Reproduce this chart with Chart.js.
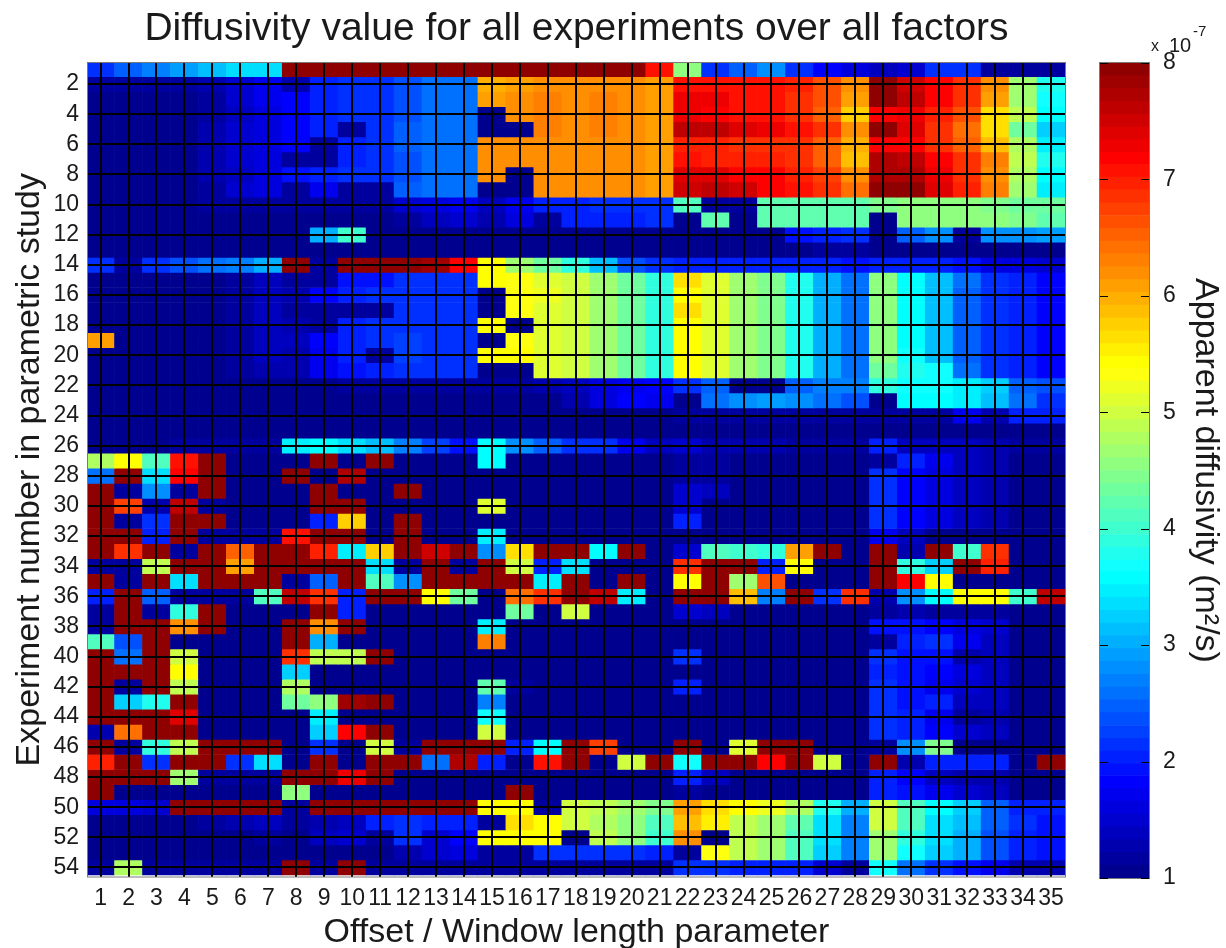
<!DOCTYPE html>
<html><head><meta charset="utf-8">
<style>
html,body{margin:0;padding:0;background:#fff;width:1226px;height:948px;overflow:hidden}
canvas{position:absolute;top:0;filter:blur(0.45px)}
#main{left:0}
#bar{left:1090px}
</style>
<script src="https://cdn.jsdelivr.net/npm/chart.js@4"></script>
</head><body>
<canvas id="main" width="1226" height="948"></canvas>
<canvas id="bar" width="136" height="948"></canvas>
<script>
const offsetLabels = [1,2,3,4,5,6,7,8,9,10,11,12,13,14,15,16,17,18,19,20,21,22,23,24,25,26,27,28,29,30,31,32,33,34,35];
const experimentTicks = [2,4,6,8,10,12,14,16,18,20,22,24,26,28,30,32,34,36,38,40,42,44,46,48,50,52,54];
const colorbarTicks = [1,2,3,4,5,6,7,8];
const colorbarEdges = [1,1.11,1.22,1.33,1.44,1.55,1.66,1.77,1.88,1.98,2.09,2.20,2.31,2.42,2.53,2.64,2.75,2.86,2.97,3.08,3.19,3.30,3.41,3.52,3.63,3.73,3.84,3.95,4.06,4.17,4.28,4.39,4.50,4.61,4.72,4.83,4.94,5.05,5.16,5.27,5.38,5.48,5.59,5.70,5.81,5.92,6.03,6.14,6.25,6.36,6.47,6.58,6.69,6.80,6.91,7.02,7.13,7.23,7.34,7.45,7.56,7.67,7.78,7.89,8];

const r01=[2.1,2.5,2.7,2.9,3.1,3.3,3.4,8,8,8,8,8,8,8,8,8,8,8,8,8,7.1,4.6,2.1,2.5,2.8,2.2,1.8,1.6,1.4,1.5,2.1,2.1,1.2,1.2,1.2];
const r02=[1.2,1.2,1.2,1.2,1.3,1.5,1.7,1.3,2.0,2.1,2.2,2.4,2.6,2.6,6.0,6.1,6.2,6.2,6.2,6.2,6.1,7.1,7.1,7.1,7.1,7.0,6.6,6.2,7.9,7.5,7.2,6.9,6.2,4.7,3.8];
const r03=[1.1,1.1,1.1,1.1,1.2,1.5,1.7,1.8,2.0,2.1,2.2,2.4,2.6,2.6,6.1,6.2,6.3,6.2,6.3,6.2,6.1,7.3,7.3,7.1,7.1,6.9,6.6,6.1,8,7.6,7.2,6.8,6.1,4.7,3.7];
const r04=[1.1,1.1,1.1,1.1,1.2,1.4,1.6,1.8,2.0,2.1,2.2,2.4,2.6,2.6,1.1,6.2,6.3,6.2,6.3,6.2,6.1,7.3,7.2,7.1,7.1,6.9,6.5,5.8,7.2,7.3,7.0,6.6,5.7,4.9,3.6];
const r05=[1.1,1.1,1.1,1.1,1.3,1.5,1.6,1.8,2.0,1.2,2.2,2.5,2.6,2.6,1.1,1.1,6.3,6.2,6.3,6.2,6.1,7.6,7.6,7.4,7.3,7.1,6.8,6.2,8,7.4,6.9,6.4,5.6,4.3,3.2];
const r06=[1.1,1.1,1.1,1.1,1.3,1.5,1.6,1.8,1.2,2.0,2.2,2.5,2.6,2.6,6.2,6.2,6.2,6.2,6.2,6.2,6.1,7.0,7.0,6.9,6.9,6.8,6.5,6.0,7.2,7.2,6.9,6.5,5.9,4.8,3.5];
const r07=[1.1,1.1,1.1,1.1,1.3,1.5,1.6,1.2,1.2,2.0,2.2,2.4,2.6,2.6,6.2,6.2,6.2,6.2,6.2,6.2,6.1,7.1,7.0,7.0,7.0,6.8,6.5,5.9,7.7,7.6,7.2,6.9,6.3,4.9,3.8];
const r08=[1.1,1.1,1.1,1.1,1.3,1.4,1.6,1.9,2.0,2.1,2.2,2.4,2.6,2.6,6.2,1.1,6.2,6.2,6.2,6.2,6.1,7.4,7.4,7.2,7.2,7.0,6.7,6.2,7.7,7.7,7.3,6.9,6.2,4.8,3.6];
const r09=[1.1,1.1,1.1,1.1,1.2,1.5,1.6,1.2,1.7,1.2,1.2,2.5,2.6,2.6,1.1,1.1,6.2,6.2,6.2,6.2,6.1,7.5,7.6,7.5,7.2,7.1,6.8,6.4,8,8,7.4,7.0,6.3,4.7,3.5];
const r10=[1.1,1.1,1.1,1.1,1.2,1.2,1.2,1.2,1.2,1.2,1.2,1.5,1.6,1.7,1.4,1.7,2.0,2.0,2.1,2.1,2.1,4.1,1.2,1.2,4.2,4.2,4.2,4.2,4.4,4.5,4.5,4.5,4.4,4.3,4.3];
const r11=[1.1,1.1,1.1,1.1,1.1,1.1,1.1,1.1,1.1,1.1,1.1,1.2,1.4,1.5,1.3,1.6,1.2,2.0,2.0,2.0,2.1,1.1,4.2,1.1,4.2,4.2,4.2,4.2,1.1,4.6,4.6,4.6,4.6,4.4,4.2];
const r12=[1.1,1.1,1.1,1.1,1.1,1.1,1.1,1.1,3.0,4.0,1.1,1.1,1.1,1.1,1.1,1.1,1.1,1.1,1.1,1.1,1.1,1.1,1.1,1.1,1.1,1.9,2.0,2.1,1.1,2.5,2.8,1.2,2.8,2.8,2.9];
const r13=[1.1,1.1,1.1,1.1,1.1,1.1,1.1,1.1,1.1,1.1,1.1,1.1,1.1,1.1,1.1,1.1,1.1,1.1,1.1,1.1,1.1,1.1,1.1,1.1,1.1,1.1,1.2,1.2,1.1,1.1,1.1,1.1,1.1,1.1,1.1];
const r14=[2.1,1.2,2.1,2.4,2.6,2.7,3.0,8,1.2,8,8,8,7.8,7.2,5.4,4.7,4.3,3.9,3.1,2.4,2.1,2.0,2.0,2.0,2.0,2.0,2.0,1.9,2.0,2.0,2.0,1.9,1.6,1.6,1.5];
const r15=[1.1,1.1,1.1,1.1,1.1,1.2,1.4,1.2,1.2,1.9,1.9,2.1,2.1,2.1,5.4,5.3,5.1,5.0,4.7,4.3,3.9,5.7,5.1,4.7,4.4,3.8,3.0,2.6,4.5,3.6,3.1,2.6,2.1,2.0,1.8];
const r16=[1.1,1.1,1.1,1.1,1.1,1.2,1.4,1.3,1.8,2.0,2.1,2.2,2.1,2.1,1.1,5.3,5.2,5.0,4.7,4.3,3.9,5.4,5.1,4.7,4.4,3.8,3.0,2.6,4.6,3.6,3.1,2.5,2.1,2.0,1.8];
const r17=[1.1,1.1,1.1,1.1,1.1,1.2,1.4,1.2,1.2,1.2,1.2,2.2,2.1,2.1,1.1,5.3,5.1,5.0,4.7,4.3,3.9,5.7,5.1,4.7,4.4,3.8,3.0,2.6,4.6,3.6,3.1,2.5,2.1,2.0,1.8];
const r18=[1.1,1.1,1.1,1.1,1.1,1.2,1.4,1.3,1.2,2.0,2.1,2.2,2.1,2.1,5.4,1.1,5.1,5.0,4.7,4.3,3.9,5.4,5.1,4.7,4.4,3.8,3.0,2.6,4.6,3.6,3.1,2.5,2.1,2.0,1.8];
const r19=[6.1,1.1,1.1,1.1,1.1,1.2,1.4,1.4,1.8,2.0,2.1,2.3,2.1,2.1,1.1,5.3,5.1,5.0,4.7,4.3,3.9,5.4,5.1,4.7,4.4,3.8,3.0,2.6,4.6,3.6,3.1,2.5,2.1,2.0,1.8];
const r20=[1.1,1.1,1.1,1.1,1.1,1.2,1.4,1.3,1.7,2.0,1.2,2.3,2.1,2.1,5.4,5.4,5.1,5.0,4.7,4.3,3.9,5.4,5.1,4.7,4.4,3.8,3.0,2.6,4.5,3.7,3.1,2.5,2.1,2.0,1.8];
const r21=[1.1,1.1,1.1,1.1,1.1,1.2,1.3,1.3,1.7,1.9,2.0,2.2,2.1,2.1,1.1,1.1,5.1,5.0,4.7,4.3,3.9,5.4,5.1,4.7,4.4,3.8,3.0,2.6,4.3,3.8,3.7,2.6,2.1,2.0,1.8];
const r22=[1.1,1.1,1.1,1.1,1.1,1.1,1.1,1.1,1.1,1.2,1.2,1.2,1.2,1.2,1.2,1.2,1.3,1.4,1.6,1.7,1.8,2.1,2.5,1.1,1.1,2.5,2.7,2.7,3.9,3.7,3.7,3.5,3.2,2.5,2.4];
const r23=[1.1,1.1,1.1,1.1,1.1,1.1,1.1,1.1,1.1,1.1,1.1,1.1,1.1,1.1,1.1,1.1,1.1,1.3,1.6,1.8,1.7,1.1,2.6,2.8,2.9,2.8,2.6,2.4,1.1,3.6,3.6,3.5,3.1,2.6,2.2];
const r24=[1.1,1.1,1.1,1.1,1.1,1.1,1.1,1.1,1.1,1.1,1.1,1.1,1.1,1.1,1.1,1.1,1.1,1.1,1.1,1.1,1.1,1.2,1.2,1.2,1.2,1.2,1.2,1.2,1.2,1.2,1.2,1.7,1.3,2.0,2.0];
const r25=[1.1,1.1,1.1,1.1,1.1,1.1,1.1,1.1,1.1,1.1,1.1,1.1,1.1,1.1,1.1,1.1,1.1,1.1,1.1,1.1,1.1,1.1,1.1,1.1,1.1,1.1,1.1,1.1,1.1,1.1,1.1,1.1,1.1,1.1,1.1];
const r26=[1.1,1.1,1.1,1.2,1.2,1.2,1.2,3.5,3.6,3.4,3.1,2.7,2.3,1.9,3.6,2.8,2.5,2.2,2.1,1.7,1.4,1.5,1.3,1.3,1.3,1.2,1.2,1.2,2.0,1.4,1.4,1.4,1.3,1.2,1.2];
const r27=[4.8,5.4,4.1,7.1,8,1.1,1.1,1.1,8,1.1,8,1.1,1.1,1.1,3.6,1.1,1.1,1.1,1.1,1.1,1.1,1.2,1.2,1.1,1.1,1.1,1.1,1.1,1.2,2.0,1.7,1.4,1.3,1.1,1.1];
const r28=[2.6,8,3.3,7.2,8,1.1,1.1,8,1.1,7.7,1.1,1.1,1.1,1.1,1.1,1.1,1.1,1.1,1.1,1.1,1.1,1.2,1.2,1.1,1.1,1.1,1.1,1.1,2.1,1.8,1.6,1.4,1.3,1.1,1.1];
const r29=[8,1.2,2.8,1.2,8,1.1,1.1,1.1,8,1.1,1.1,8,1.1,1.1,1.1,1.1,1.1,1.1,1.1,1.1,1.1,1.5,1.4,1.1,1.1,1.1,1.1,1.1,2.1,1.8,1.6,1.4,1.3,1.1,1.1];
const r30=[8,6.7,1.3,7.6,1.2,1.1,1.1,1.1,8,8,1.1,1.1,1.1,1.1,5.1,1.1,1.1,1.1,1.1,1.1,1.1,1.5,1.1,1.1,1.1,1.1,1.1,1.1,2.1,1.8,1.6,1.4,1.3,1.1,1.1];
const r31=[8,1.2,2.1,8,8,1.1,1.1,1.1,2.0,5.8,1.1,8,1.1,1.1,1.1,1.1,1.1,1.1,1.1,1.1,1.1,2.0,1.1,1.1,1.1,1.1,1.1,1.1,2.1,1.8,1.6,1.4,1.3,1.1,1.1];
const r32=[8,8,2.0,8,1.2,1.2,1.2,7.1,8,8,1.1,8,1.1,1.1,3.5,1.1,1.1,1.1,1.1,1.1,1.1,1.1,1.1,1.1,1.1,1.1,1.1,1.1,1.7,1.4,1.1,1.1,1.1,1.1,1.1];
const r33=[8,6.8,8,1.2,8,6.5,8,8,7.0,3.5,5.8,8,7.5,8,2.8,5.7,8,8,3.6,8,1.1,1.5,4.1,4.0,3.9,6.1,8,1.1,8,1.3,8,4.0,6.9,1.1,1.1];
const r34=[1.2,1.2,4.9,8,8,6.1,8,8,8,8,3.4,1.2,8,1.2,8,5.0,2.0,3.3,1.1,1.1,1.1,6.8,8,8,2.0,5.4,1.1,1.1,8,3.9,3.2,8,7.0,1.1,1.1];
const r35=[8,1.2,8,3.3,8,8,8,1.2,2.5,8,4.1,2.8,8,8,8,8,3.5,8,1.1,8,1.1,5.4,8,4.7,6.6,1.1,1.1,1.1,8,7.2,5.4,1.1,1.1,1.1,1.1];
const r36=[2.0,8,2.5,1.2,1.2,1.2,4.1,7.6,6.8,2.0,8,8,5.4,4.3,1.1,6.4,6.9,8,7.6,3.5,1.1,8,8,5.9,2.7,7.9,2.1,6.8,1.3,2.8,3.6,5.4,5.4,4.0,7.6];
const r37=[1.2,8,1.2,3.9,8,1.1,1.1,1.1,8,2.0,1.1,1.1,1.1,1.1,1.1,4.3,1.1,5.0,1.1,1.1,1.1,1.5,1.4,1.1,1.1,1.1,1.1,1.1,1.2,1.3,1.2,1.2,1.2,1.1,1.1];
const r38=[1.2,8,8,6.2,8,1.1,1.1,8,6.2,8,1.1,1.1,1.1,1.1,3.5,1.1,1.1,1.1,1.1,1.1,1.1,1.1,1.1,1.1,1.1,1.1,1.1,1.1,1.9,1.9,1.8,1.6,1.5,1.1,1.1];
const r39=[4.1,2.4,8,1.1,1.1,1.1,1.1,8,3.0,1.1,1.1,1.1,1.1,1.1,6.3,1.1,1.1,1.1,1.1,1.1,1.1,1.1,1.1,1.1,1.1,1.1,1.1,1.1,1.2,2.0,2.2,1.7,1.4,1.1,1.1];
const r40=[8,2.6,8,5.0,1.1,1.1,1.1,6.8,4.9,4.9,8,1.1,1.1,1.1,1.1,1.1,1.1,1.1,1.1,1.1,1.1,2.1,1.1,1.1,1.1,1.1,1.1,1.1,2.1,1.9,1.9,1.3,1.4,1.1,1.1];
const r41=[8,8,8,5.4,1.1,1.1,1.1,3.2,1.1,1.1,1.1,1.1,1.1,1.1,1.1,1.1,1.1,1.1,1.1,1.1,1.1,1.1,1.1,1.1,1.1,1.1,1.1,1.1,2.0,1.9,1.8,1.6,1.4,1.1,1.1];
const r42=[8,1.2,8,4.9,1.1,1.1,1.1,4.8,1.1,1.1,1.1,1.1,1.1,1.1,4.2,1.2,1.1,1.1,1.1,1.1,1.1,2.0,1.1,1.1,1.1,1.1,1.1,1.1,2.1,1.9,1.7,1.5,1.4,1.1,1.1];
const r43=[8,3.2,3.8,8,1.1,1.1,1.1,4.3,4.6,7.8,8,1.1,1.1,1.1,2.7,1.1,1.1,1.1,1.1,1.1,1.1,1.1,1.1,1.1,1.1,1.1,1.1,1.1,2.1,1.9,2.0,1.4,1.4,1.1,1.1];
const r44=[8,8,8,7.4,1.1,1.1,1.1,1.1,3.5,1.1,1.1,1.1,1.1,1.1,3.7,1.1,1.1,1.1,1.1,1.1,1.1,1.1,1.1,1.1,1.1,1.1,1.1,1.1,2.1,2.0,1.7,1.2,1.3,1.1,1.1];
const r45=[1.3,6.4,8,8,1.1,1.1,1.1,1.1,3.2,7.2,8,1.1,1.1,1.1,5.0,1.1,1.1,1.1,1.1,1.1,1.1,1.1,1.1,1.1,1.1,1.1,1.1,1.1,2.1,2.0,1.8,1.5,1.4,1.1,1.1];
const r46=[8,1.2,3.9,4.9,8,8,8,1.1,2.1,1.1,5.0,1.2,8,8,8,2.0,3.6,8,6.7,1.1,1.1,8,1.1,5.1,8,8,1.1,1.1,1.2,2.8,4.4,1.1,1.1,1.1,1.1];
const r47=[7.0,8,2.1,8,8,2.1,3.4,1.1,8,1.1,8,8,2.6,7.7,2.0,1.1,7.1,8,1.1,5.0,8,3.7,8,8,7.2,8,5.0,1.1,8,1.3,2.0,2.0,2.0,1.1,8];
const r48=[8,8,8,4.7,1.2,1.2,1.2,8,8,7.3,8,1.1,1.1,1.1,1.1,1.1,1.1,1.1,1.1,1.1,1.1,2.0,1.4,1.1,1.1,1.1,1.1,1.1,2.0,1.8,1.4,1.3,1.3,1.1,1.1];
const r49=[8,1.1,1.1,1.1,1.1,1.1,1.1,4.5,1.1,1.1,1.1,1.1,1.1,1.1,1.1,8,1.1,1.1,1.1,1.1,1.1,1.2,1.1,1.1,1.1,1.1,1.1,1.1,2.0,1.9,1.7,1.5,1.4,1.1,1.1];
const r50=[1.6,1.6,1.5,8,8,8,8,1.2,8,8,8,8,8,8,5.4,5.4,1.2,5.0,4.9,4.7,4.4,6.1,5.6,5.4,5.2,4.8,3.8,3.0,5.0,4.1,3.6,3.2,2.5,2.0,2.0];
const r51=[1.1,1.1,1.1,1.1,1.2,1.3,1.4,1.2,1.3,1.4,2.0,2.2,2.0,2.0,1.2,5.6,5.4,5.0,4.8,4.5,4.1,5.9,5.5,4.9,4.7,4.2,3.3,2.7,5.0,4.1,3.4,3.1,2.5,2.1,1.9];
const r52=[1.1,1.1,1.1,1.1,1.1,1.1,1.2,1.1,1.4,1.5,1.2,2.1,1.5,1.8,5.4,5.4,5.4,1.1,4.9,4.5,4.0,6.2,1.1,4.9,4.7,4.1,3.3,2.7,4.7,3.9,3.3,3.0,2.4,2.0,1.9];
const r53=[1.1,1.1,1.1,1.1,1.1,1.1,1.1,1.1,1.1,1.1,1.1,1.3,1.5,1.6,1.2,1.2,2.1,2.1,2.2,2.1,2.0,1.2,5.3,4.9,4.7,4.1,3.2,2.7,4.7,3.7,3.2,3.0,2.4,2.0,1.9];
const r54=[1.2,4.8,1.2,1.2,1.2,1.2,1.2,8,1.2,8,1.2,1.2,1.2,1.2,1.2,1.2,1.2,1.2,1.2,1.2,1.2,2.2,2.2,2.0,2.0,2.0,1.5,1.2,3.7,2.6,2.1,1.9,1.7,1.3,1.3];

const experimentRows=[r01,r02,r03,r04,r05,r06,r07,r08,r09,r10,r11,r12,r13,r14,r15,r16,r17,r18,r19,r20,r21,r22,r23,r24,r25,r26,r27,r28,r29,r30,r31,r32,r33,r34,r35,r36,r37,r38,r39,r40,r41,r42,r43,r44,r45,r46,r47,r48,r49,r50,r51,r52,r53,r54];

function jetIndex(i){
  const c=v=>Math.round(255*Math.max(0,Math.min(1,v)));
  const b=i<8?(i+9)/16:i<=23?1:i<40?(40-i)/16:0;
  const g=i<8?0:i<=23?(i-7)/16:i<=39?1:i<=55?(56-i)/16:0;
  const r=i<24?0:i<=39?(i-23)/16:i<=55?1:(72-i)/16;
  return `rgb(${c(r)},${c(g)},${c(b)})`;
}
function jetValue(v){
  return jetIndex(Math.max(0,Math.min(63,Math.floor((v-1)/7*64))));
}

const FONT='"Liberation Sans", Arial, sans-serif';
const INK='#1a1a1a';
const frame={id:'frame',afterDraw(c){
  const a=c.chartArea,x=c.ctx;
  x.save();x.strokeStyle='#7a7a7a';x.lineWidth=1;
  x.strokeRect(a.left-.5,a.top-.5,a.right-a.left+1,a.bottom-a.top+1);
  x.restore();
}};

new Chart(document.getElementById('main'),{
  type:'bar',
  data:{datasets:experimentRows.map((row,k)=>({
    data:row.map((v,j)=>({x:offsetLabels[j],y:[k+0.5,k+1.5]})),
    backgroundColor:row.map(jetValue),
    borderWidth:0,borderSkipped:false,
    barPercentage:1,categoryPercentage:1,grouped:false
  }))},
  options:{
    responsive:false,animation:false,devicePixelRatio:1,
    layout:{padding:{left:0,right:161,top:0,bottom:0}},
    plugins:{
      legend:{display:false},tooltip:{enabled:false},
      title:{display:true,text:'Diffusivity value for all experiments over all factors',fullSize:false,
        color:INK,font:{family:FONT,size:39,weight:'normal',lineHeight:1.2},padding:{top:5.6,bottom:10.6}}
    },
    scales:{
      x:{type:'linear',position:'bottom',offset:false,min:0.55,max:35.5,
        afterBuildTicks(s){s.ticks=offsetLabels.map(v=>({value:v}));},
        afterFit(s){s.height=71.5;},
        grid:{z:1,offset:false,color:'#000',lineWidth:2,drawTicks:false,drawOnChartArea:true},
        border:{display:false},
        ticks:{autoSkip:false,maxRotation:0,minRotation:0,padding:8,color:INK,font:{family:FONT,size:23},
          callback:v=>String(v)},
        title:{display:true,text:'Offset / Window length parameter',color:INK,
          font:{family:FONT,size:34,lineHeight:0.9},padding:{top:0,bottom:0}}
      },
      y:{type:'linear',position:'left',reverse:true,min:0.6,max:54.6,
        afterBuildTicks(s){s.ticks=experimentTicks.map(v=>({value:v}));},
        afterFit(s){s.width=88;},
        grid:{z:1,color:'#000',lineWidth:2,drawTicks:false},
        border:{display:false},
        ticks:{autoSkip:false,padding:9,color:INK,font:{family:FONT,size:23},callback:v=>String(v)},
        title:{display:true,text:'Experiment number in parametric study',color:INK,
          font:{family:FONT,size:34,lineHeight:1},padding:{top:13,bottom:0}}
      }
    }
  },
  plugins:[frame]
});

const barExtras={id:'barExtras',afterDraw(c){
  const x=c.ctx,a=c.chartArea,s=c.scales.y;
  x.save();x.strokeStyle='#000';x.lineWidth=1;
  colorbarTicks.forEach(v=>{
    const p=Math.round(s.getPixelForValue(v))+.5;
    x.beginPath();x.moveTo(a.left,p);x.lineTo(a.left+8,p);x.moveTo(a.right-8,p);x.lineTo(a.right,p);x.stroke();
  });
  x.fillStyle=INK;x.textBaseline='alphabetic';x.textAlign='left';
  x.font='16px '+FONT;x.fillText('x',61,51);
  x.font='20px '+FONT;x.fillText('10',79,52);
  x.font='15px '+FONT;x.fillText('-7',103,36);
  x.restore();
}};
new Chart(document.getElementById('bar'),{
  type:'bar',
  data:{labels:['c'],datasets:colorbarEdges.slice(0,-1).map((lo,i)=>({
    data:[[lo,colorbarEdges[i+1]]],backgroundColor:jetIndex(i),
    borderWidth:0,borderSkipped:false,barPercentage:1,categoryPercentage:1,grouped:false
  }))},
  options:{
    responsive:false,animation:false,devicePixelRatio:1,
    layout:{padding:{left:10,right:0,top:63,bottom:70}},
    plugins:{legend:{display:false},tooltip:{enabled:false}},
    scales:{
      x:{display:false},
      y:{type:'linear',position:'right',min:1,max:8,
        afterBuildTicks(s){s.ticks=colorbarTicks.map(v=>({value:v}));},
        afterFit(s){s.width=77;},
        grid:{display:false},border:{display:false},
        ticks:{autoSkip:false,padding:6,color:INK,font:{family:FONT,size:23},callback:v=>String(v)},
        title:{display:true,text:'Apparent diffusivity (m²/s)',color:INK,
          font:{family:FONT,size:34,lineHeight:1},padding:{top:4,bottom:0}}
      }
    }
  },
  plugins:[frame,barExtras]
});
</script>
</body></html>
